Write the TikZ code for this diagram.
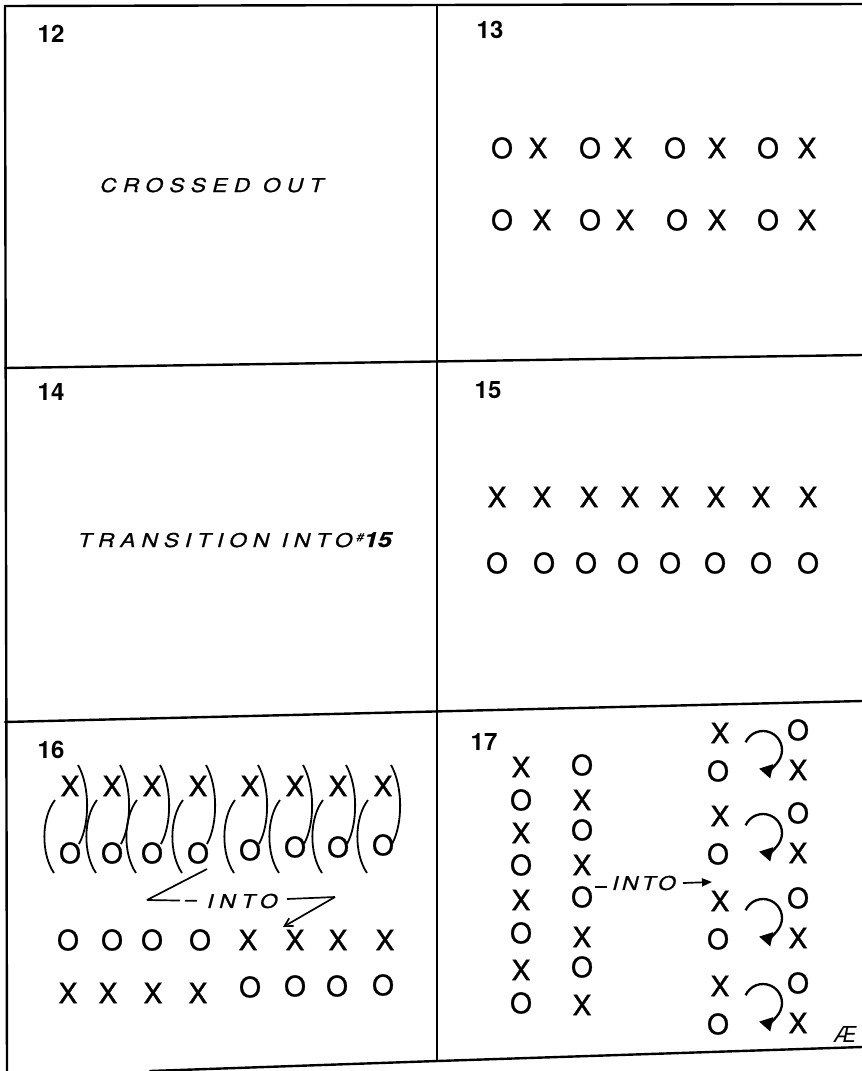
\documentclass[tikz,border=0pt]{standalone}
\usepackage{fontspec}
\newfontfamily\hand{TeX Gyre Heros}
\newfontfamily\handm[FakeBold=1.2]{TeX Gyre Heros}
\newfontfamily\handw[FakeStretch=1.2,FakeBold=0.8]{TeX Gyre Heros}
\usetikzlibrary{arrows.meta}
\tikzset{
  frame/.style={line width=2.4pt, line cap=round},
  mk/.style={inner sep=0pt, font=\handm\fontsize{28}{28}\selectfont},
  mks/.style={inner sep=0pt, font=\handm\fontsize{28}{28}\selectfont},
  num/.style={inner sep=0pt, font=\hand\bfseries\fontsize{24}{24}\selectfont},
  lab/.style={inner sep=0pt, font=\handw\itshape\fontsize{19}{19}\selectfont},
  swing/.style={line width=1.8pt},
  stroke/.style={line width=1.7pt},
  curl/.style={line width=2.3pt, -{Triangle[length=13pt,width=14pt]}},
}
\begin{document}
\begin{tikzpicture}[x=1pt,y=-1pt]
\useasboundingbox (0,0) rectangle (862,1071);
\fill[white] (0,0) rectangle (862,1071);
% frame
\draw[frame] (862,4) -- (5,6) -- (7,1071);
\draw[frame] (437,5) -- (437,1061);
\draw[frame] (5,368) -- (862,355);
\draw[frame] (5,722) -- (862,701);
\draw[frame] (150,1071) -- (437,1061) -- (862,1047);
% panel numbers
\node[num] (n12) at (51,34) {12};
\node[num] (n13) at (490,30) {13};
\node[num] (n14) at (51,392) {14};
\node[num] (n15) at (488,390) {15};
\node[num] (n16) at (51,750) {16};
\node[num] (n17) at (484,742) {17};
% panel 12
\node[lab, anchor=base west] (crossed) at (100,192) {\addfontfeature{LetterSpace=33}CROSSED OUT};
% panel 13
\foreach \t/\x [count=\i] in {O/502,X/538,O/590,X/623,O/675,X/717,O/768,X/807}
  \node[mks] (a\i) at (\x,148) {\t};
\foreach \t/\x [count=\i] in {O/502,X/542,O/590,X/625,O/677,X/717,O/768,X/807}
  \node[mks] (b\i) at (\x,220) {\t};
% panel 14
\node[lab, anchor=base west] (trans) at (78,547)
  {{\addfontfeature{LetterSpace=31}TRANSITION INTO}\hspace{4pt}\raisebox{6pt}{\fontsize{11}{11}\selectfont\#}{\bfseries\fontsize{21}{21}\selectfont 15}};
% panel 15
\foreach \x [count=\i] in {497,542,589,630,670,716,761,808}
  \node[mks] (c\i) at (\x,497) {X};
\foreach \x [count=\i] in {497,544,586,628,670,715,761,808}
  \node[mks] (d\i) at (\x,563) {O};
% panel 16 top rows with swing arcs
\foreach \x/\yo [count=\i] in {70/853,112/853,152/853,198/853,250/850,295/847,338/847,383/845} {
  \node[mk] (e\i) at (\x,786) {X};
  \node[mk] (f\i) at (\x,\yo) {O};
  \draw[swing] (\x-15,800) .. controls (\x-29,818) and (\x-29,854) .. (\x-16,873);
  \draw[swing] (\x+8,765) .. controls (\x+20,786) and (\x+20,824) .. (\x+9,844);
}
% panel 16 INTO
\node[lab, anchor=west] (into16) at (207,901) {\addfontfeature{LetterSpace=30}INTO};
\coordinate (p16a) at (147,900);
\coordinate (p16b) at (207,869);
\coordinate (p16c) at (287,899);
\coordinate (p16d) at (335,897);
\coordinate (p16e) at (283,927);
\draw[stroke] (p16b) -- (p16a);
\draw[stroke, dash pattern=on 33pt off 5pt on 12pt off 20pt] (p16a) -- (into16.west);
\draw[stroke] (p16c) -- (p16d);
\draw[stroke, -{Straight Barb[length=8pt,width=9pt]}] (p16d) -- (p16e);
% panel 16 bottom rows
\foreach \t/\x [count=\i] in {O/68,O/112,O/152,O/200,X/248,X/295,X/338,X/385}
  \node[mk] (g\i) at (\x,940) {\t};
\foreach \t/\x/\y [count=\i] in {X/68/993,X/108/993,X/153/993,X/198/993,O/250/987,O/295/986,O/337/986,O/383/985}
  \node[mk] (h\i) at (\x,\y) {\t};
% panel 17 columns
\foreach \t/\y [count=\i] in {X/767,O/800,X/833,O/865,X/900,O/933,X/970,O/1003}
  \node[mk] (k\i) at (521,\y) {\t};
\foreach \t/\y [count=\i] in {O/765,X/800,O/830,X/865,O/897,X/937,O/967,X/1005}
  \node[mk] (m\i) at (582,\y) {\t};
% panel 17 INTO
\node[lab, anchor=west] (into17) at (612,883) {\addfontfeature{LetterSpace=18}INTO};
\coordinate (q1) at (595,887);
\coordinate (q2) at (607,887);
\coordinate (q3) at (683,883);
\coordinate (q4) at (712,882);
\draw[stroke] (q1) -- (q2);
\draw[stroke, -{Triangle[length=10pt,width=8pt]}] (q3) -- (q4);
% panel 17 rotating groups
\foreach \yc [count=\i] in {750,833,918,1003} {
  \node[mk] (r\i a) at (720,\yc-17) {X};
  \node[mk] (r\i b) at (798,\yc-20) {O};
  \node[mk] (r\i c) at (718,\yc+21) {O};
  \node[mk] (r\i d) at (798,\yc+20) {X};
  \coordinate (s\i) at (763,\yc);
  \draw[curl] ([shift={(204:19)}]s\i) arc[start angle=204, end angle=462, radius=19];
}
\node[font=\hand\itshape\fontsize{22}{22}\selectfont, inner sep=0pt] (sig) at (845,1034) {Æ};
\end{tikzpicture}
\end{document}
